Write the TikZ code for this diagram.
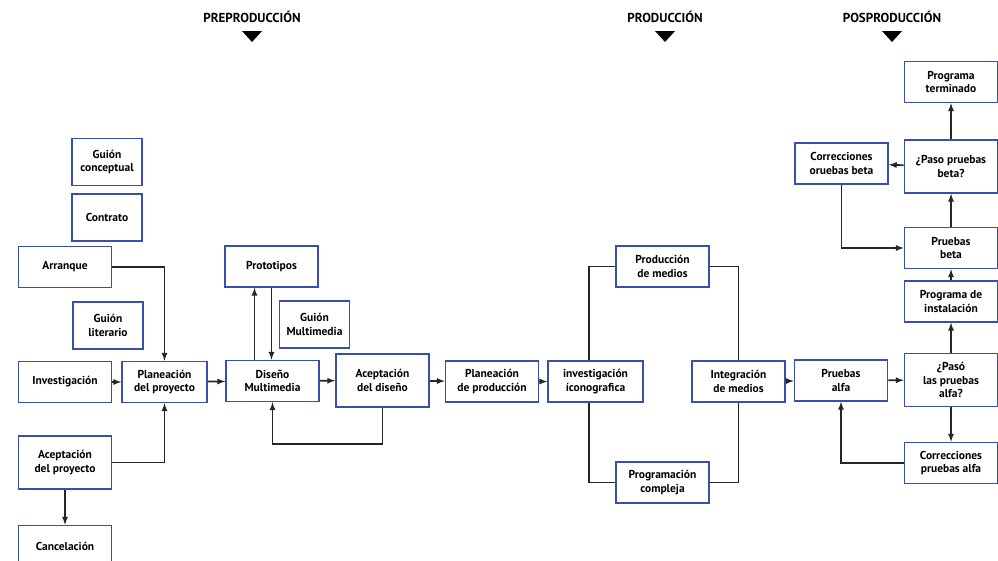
\documentclass[tikz,border=0pt]{standalone}
\usepackage{fontspec}
\setmainfont{PT Sans}
\usetikzlibrary{arrows, positioning}
\definecolor{boxblue}{RGB}{58,78,176}

\begin{document}
\begin{tikzpicture}[x=1pt, y=-1pt]
    \tikzset{
        box/.style = {rectangle, draw=boxblue, fill=white, line width=1.6pt, align=center, inner sep=1pt,
                      minimum width=93pt, minimum height=41pt, font=\bfseries\fontsize{11.5}{13.5}\selectfont},
        small/.style = {box, minimum width=70pt, minimum height=47pt},
        tall/.style = {box, minimum height=53pt},
        head/.style = {font=\bfseries\fontsize{13}{15}\selectfont},
        line/.style = {draw=black!85, line width=1.7pt, -latex},
        link/.style = {draw=black!85, line width=1.7pt},
    }
    \useasboundingbox (0,0) rectangle (998,560);
    \clip (0,0) rectangle (998,560);

    % phases
    \node[head](pre) at (252,17) {PREPRODUCCIÓN};
    \node[head](prod) at (665,17) {PRODUCCIÓN};
    \node[head](pos) at (892,17) {POSPRODUCCIÓN};
    \foreach \t in {pre, prod, pos}
        \fill (\t.center) ++(-10,14) -- ++(20,0) -- ++(-10,11) -- cycle;

    % preproduccion
    \node[small](guionc) at (107,162) {Guión\\conceptual};
    \node[small](contrato)[below = 7pt of guionc] {Contrato};
    \node[box](arranque) at (65,267) {Arranque};
    \node[small](guionl) at (108,325.5) {Guión\\literario};
    \node[box](investigacion) at (65,382) {Investigación};
    \node[box, minimum width=85pt](planeacion) at (164.5,382) {Planeación\\del proyecto};
    \node[tall](acepproy) at (65,462.5) {Aceptación\\del proyecto};
    \node[box](cancelacion) at (65,546) {Cancelación};
    \node[box](diseno) at (272.5,381) {Diseño\\Multimedia};
    \node[box](prototipos) at (271.5,266.5) {Prototipos};
    \node[small](guionm) at (314.5,324.5) {Guión\\Multimedia};
    \node[tall](acepdis) at (382.5,380.5) {Aceptación\\del diseño};

    % produccion
    \node[box](planprod) at (492,381.5) {Planeación\\de producción};
    \node[box, minimum width=95pt](invicono) at (595.5,381.5) {investigación\\íconografica};
    \node[box](prodmed) at (662.5,266.5) {Producción\\de medios};
    \node[box](progcomp) at (662.5,482.5) {Programación\\compleja};
    \node[box](integra) at (738.5,381.5) {Integración\\de medios};

    % posproduccion
    \node[box](pruebasa) at (841,380.5) {Pruebas\\alfa};
    \node[tall](pasoa) at (951,380) {¿Pasó\\las pruebas\\alfa?};
    \node[box](corra) at (951,463) {Correcciones\\pruebas alfa};
    \node[box](proginst) at (951,301.5) {Programa de\\instalación};
    \node[box](pruebasb) at (951,248) {Pruebas\\beta};
    \node[tall](pasob) at (951,166.5) {¿Paso pruebas\\beta?};
    \node[box](corrb) at (841.5,163.5) {Correcciones\\oruebas beta};
    \node[box](progterm) at (951,82) {Programa\\terminado};

    \path [line] (arranque) -| (planeacion);
    \path [line] (investigacion) -- (planeacion);
    \path [line] (acepproy) -| (planeacion);
    \path [line] (acepproy) -- (cancelacion);
    \path [line] (planeacion) -- (diseno);
    \path [line] ([xshift=-18pt]diseno.north) -- ([xshift=-18pt]diseno.north |- prototipos.south);
    \path [line] (prototipos.south) -- (prototipos.south |- diseno.north);
    \path [line] (diseno) -- (acepdis);
    \path [line] (acepdis.south) -- ++(0,36) -| (diseno.south);
    \path [line] (acepdis) -- (planprod);
    \path [line] (planprod) -- (invicono);
    \path [link] ([xshift=-6.5pt]invicono.north) |- (prodmed.west);
    \path [link] (prodmed.east) -| (integra.north);
    \path [link] ([xshift=-6.5pt]invicono.south) |- (progcomp.west);
    \path [link] (progcomp.east) -| (integra.south);
    \path [line] (integra) -- (pruebasa);
    \path [line] (pruebasa) -- (pasoa);
    \path [line] (pasoa) -- (corra);
    \path [line] (corra) -| (pruebasa);
    \path [line] (pasoa) -- (proginst);
    \path [line] (proginst) -- (pruebasb);
    \path [line] (pruebasb) -- (pasob);
    \path [line] (pasob) -- (progterm);
    \path [line] (pasob) -- (corrb);
    \path [line] (corrb) |- (pruebasb);

\end{tikzpicture}
\end{document}
